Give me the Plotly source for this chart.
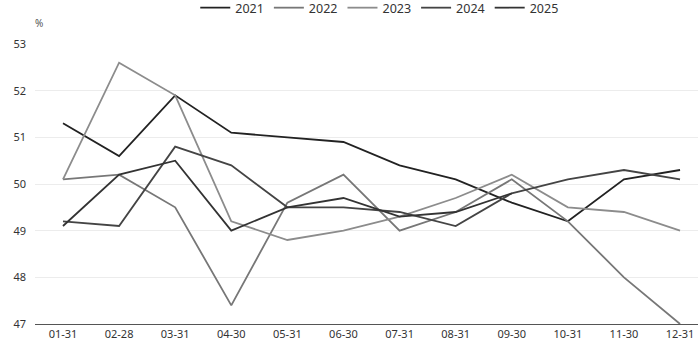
import plotly.graph_objects as go

categories = ["01-31", "02-28", "03-31", "04-30", "05-31", "06-30",
              "07-31", "08-31", "09-30", "10-31", "11-30", "12-31"]
s2021 = [51.3, 50.6, 51.9, 51.1, 51.0, 50.9, 50.4, 50.1, 49.6, 49.2, 50.1, 50.3]
s2022 = [50.1, 50.2, 49.5, 47.4, 49.6, 50.2, 49.0, 49.4, 50.1, 49.2, 48.0, 47.0]
s2023 = [50.1, 52.6, 51.9, 49.2, 48.8, 49.0, 49.3, 49.7, 50.2, 49.5, 49.4, 49.0]
s2024 = [49.2, 49.1, 50.8, 50.4, 49.5, 49.5, 49.4, 49.1, 49.8, 50.1, 50.3, 50.1]
s2025 = [49.1, 50.2, 50.5, 49.0, 49.5, 49.7, 49.3, 49.4, 49.8]

series = [
    ("2021", s2021, "#222222"),
    ("2022", s2022, "#777777"),
    ("2023", s2023, "#8c8c8c"),
    ("2024", s2024, "#444444"),
    ("2025", s2025, "#333333"),
]
y_ticks = [47, 48, 49, 50, 51, 52, 53]

fig = go.Figure()
for name, vals, color in series:
    fig.add_trace(go.Scatter(
        x=categories[:len(vals)], y=vals, name=name, mode="lines",
        line=dict(color=color, width=1.8),
    ))

fig.update_layout(
    width=698, height=351,
    margin=dict(l=35, r=0, t=44, b=27, autoexpand=False),
    paper_bgcolor="white", plot_bgcolor="white",
    font=dict(family="Noto Sans, Open Sans, sans-serif", size=11, color="#333333"),
    showlegend=True,
    legend=dict(orientation="h", x=0.52, xanchor="center", y=1.182, yanchor="top",
                yref="paper", font=dict(size=12.5, color="#333333"),
                bgcolor="rgba(0,0,0,0)", itemwidth=30),
    xaxis=dict(type="category", categoryorder="array", categoryarray=categories,
               range=[-0.499, 11.32], showgrid=False, showline=True,
               linecolor="#555555", linewidth=1, ticks="", zeroline=False,
               tickfont=dict(size=11, color="#333333")),
    yaxis=dict(range=[47, 53], tickvals=y_ticks, showgrid=True,
               gridcolor="#ececec", gridwidth=1, zeroline=False, showline=False,
               ticks="", ticklabelstandoff=8,
               tickfont=dict(size=11, color="#333333")),
)
fig.add_annotation(text="%", xref="paper", yref="paper", x=0.0, y=1.0,
                   xanchor="left", yanchor="bottom", yshift=12, xshift=-2,
                   showarrow=False, font=dict(size=10, color="#555555"))

fig.write_html("out.html")
